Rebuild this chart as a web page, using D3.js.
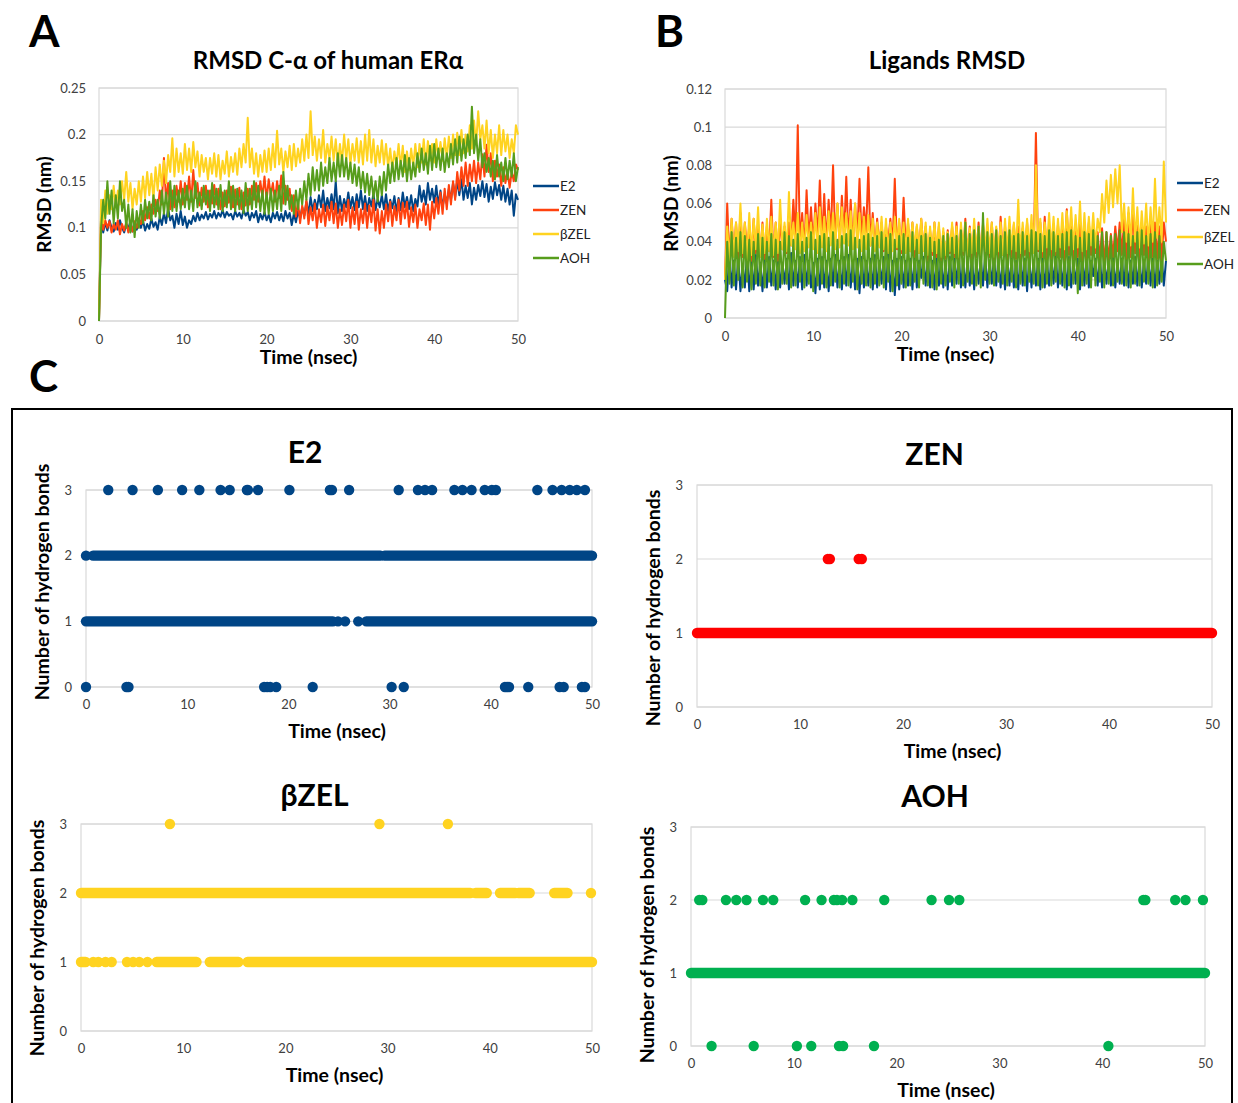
<!DOCTYPE html>
<meta charset="utf-8">
<head>
<style>
body { margin: 0; background: #fff; }
svg text { font-family: Lato, "Open Sans", sans-serif; }
.tick text { fill: #404040; font-size: 13px; }
.bold { font-weight: 700; fill: #000; }
</style>
</head>
<body>
<svg width="1238" height="1103"></svg>
<script src="https://cdn.jsdelivr.net/npm/d3@7"></script>
<script>
// samples are 0.25 ns apart, from 0 to 50 ns
var timeStep = 0.25;
var seriesNames = ["E2", "ZEN", "βZEL", "AOH"];
var lineColors = ["#004586", "#ff420e", "#ffd320", "#579d1c"];
var dotColors = ["#004586", "#ff0000", "#ffd320", "#00b050"];
var timeTicks = [0, 10, 20, 30, 40, 50];
var rmsdTicks = [0, 0.05, 0.1, 0.15, 0.2, 0.25];
var rmsdTickLabels = ["0", "0.05", "0.1", "0.15", "0.2", "0.25"];
var ligTicks = [0, 0.02, 0.04, 0.06, 0.08, 0.1, 0.12];
var ligTickLabels = ["0", "0.02", "0.04", "0.06", "0.08", "0.1", "0.12"];
var hbTicks = [0, 1, 2, 3];

// A: RMSD C-alpha of ER alpha (nm)
var rmsdE2 = [
 0,0.115,0.095,0.106, 0.097,0.108,0.1,0.096, 0.105,0.098,0.108,0.1, 0.095,0.104,0.099,0.107, 0.096,0.103,0.098,0.106,
 0.1,0.108,0.097,0.104, 0.099,0.11,0.101,0.106, 0.098,0.112,0.103,0.116, 0.105,0.121,0.108,0.113, 0.1,0.115,0.104,0.118,
 0.103,0.112,0.1,0.108, 0.104,0.113,0.107,0.116, 0.108,0.114,0.11,0.117, 0.109,0.115,0.111,0.118, 0.11,0.116,0.112,0.119,
 0.111,0.117,0.113,0.115, 0.109,0.118,0.112,0.116, 0.11,0.119,0.113,0.117, 0.108,0.116,0.111,0.118, 0.106,0.115,0.109,0.117,
 0.108,0.114,0.106,0.116, 0.11,0.117,0.108,0.115, 0.107,0.118,0.11,0.116, 0.103,0.115,0.106,0.118, 0.11,0.122,0.113,0.128,
 0.115,0.133,0.118,0.13, 0.12,0.135,0.122,0.14, 0.118,0.132,0.121,0.136, 0.12,0.15,0.116,0.134, 0.118,0.131,0.122,0.138,
 0.121,0.133,0.119,0.136, 0.122,0.14,0.12,0.134, 0.118,0.132,0.123,0.137, 0.119,0.131,0.122,0.135, 0.12,0.136,0.118,0.13,
 0.121,0.134,0.117,0.132, 0.119,0.138,0.122,0.133, 0.12,0.135,0.118,0.131, 0.123,0.145,0.128,0.14, 0.125,0.148,0.13,0.142,
 0.127,0.145,0.124,0.14, 0.122,0.136,0.126,0.142, 0.13,0.148,0.133,0.15, 0.135,0.152,0.13,0.145, 0.132,0.148,0.125,0.143,
 0.13,0.146,0.134,0.15, 0.133,0.147,0.128,0.144, 0.131,0.149,0.135,0.146, 0.13,0.145,0.128,0.142, 0.125,0.14,0.113,0.136,
 0.13];
var rmsdZEN = [
 0,0.112,0.098,0.108, 0.1,0.107,0.095,0.104, 0.098,0.108,0.093,0.104, 0.097,0.106,0.095,0.105, 0.096,0.107,0.1,0.11,
 0.104,0.118,0.108,0.122, 0.11,0.125,0.115,0.13, 0.118,0.14,0.125,0.175, 0.128,0.148,0.12,0.14, 0.122,0.145,0.128,0.15,
 0.125,0.148,0.13,0.155, 0.128,0.162,0.132,0.148, 0.124,0.143,0.128,0.145, 0.122,0.14,0.126,0.146, 0.125,0.142,0.12,0.138,
 0.123,0.14,0.127,0.144, 0.122,0.141,0.125,0.143, 0.12,0.138,0.124,0.142, 0.125,0.145,0.13,0.148, 0.128,0.15,0.133,0.155,
 0.13,0.152,0.135,0.148, 0.128,0.15,0.132,0.156, 0.126,0.145,0.13,0.142, 0.118,0.135,0.112,0.128, 0.105,0.124,0.11,0.13,
 0.104,0.122,0.108,0.126, 0.1,0.12,0.106,0.125, 0.102,0.123,0.108,0.128, 0.105,0.126,0.1,0.12, 0.103,0.125,0.107,0.13,
 0.1,0.122,0.104,0.128, 0.098,0.12,0.105,0.126, 0.1,0.124,0.106,0.13, 0.097,0.12,0.094,0.118, 0.1,0.125,0.107,0.128,
 0.102,0.123,0.108,0.13, 0.104,0.127,0.11,0.128, 0.101,0.122,0.106,0.125, 0.1,0.12,0.108,0.126, 0.103,0.125,0.098,0.128,
 0.11,0.132,0.115,0.138, 0.115,0.142,0.12,0.146, 0.125,0.15,0.13,0.16, 0.14,0.165,0.145,0.17, 0.145,0.168,0.15,0.172,
 0.148,0.17,0.152,0.179, 0.155,0.189,0.16,0.18, 0.15,0.172,0.155,0.168, 0.145,0.165,0.148,0.162, 0.143,0.16,0.15,0.168,
 0.162];
var rmsdBZEL = [
 0,0.13,0.105,0.14, 0.115,0.135,0.12,0.145, 0.122,0.14,0.125,0.15, 0.13,0.16,0.128,0.148, 0.12,0.142,0.125,0.15,
 0.128,0.155,0.132,0.16, 0.135,0.158,0.13,0.165, 0.14,0.168,0.145,0.172, 0.148,0.178,0.16,0.196, 0.155,0.185,0.16,0.18,
 0.158,0.19,0.162,0.185, 0.16,0.192,0.165,0.182, 0.155,0.178,0.16,0.175, 0.152,0.175,0.158,0.18, 0.155,0.178,0.152,0.172,
 0.158,0.182,0.155,0.176, 0.16,0.18,0.157,0.185, 0.165,0.19,0.17,0.218, 0.165,0.185,0.158,0.18, 0.155,0.178,0.16,0.183,
 0.16,0.185,0.162,0.19, 0.165,0.204,0.168,0.185, 0.16,0.182,0.165,0.188, 0.162,0.19,0.166,0.185, 0.17,0.195,0.172,0.2,
 0.175,0.225,0.178,0.198, 0.172,0.195,0.175,0.205, 0.17,0.19,0.174,0.198, 0.172,0.195,0.168,0.19, 0.17,0.2,0.173,0.195,
 0.168,0.19,0.172,0.196, 0.17,0.193,0.168,0.2, 0.172,0.205,0.17,0.195, 0.166,0.188,0.17,0.194, 0.168,0.19,0.165,0.185,
 0.162,0.182,0.168,0.19, 0.165,0.188,0.16,0.182, 0.162,0.185,0.166,0.19, 0.165,0.19,0.17,0.195, 0.168,0.193,0.172,0.19,
 0.17,0.195,0.174,0.192, 0.172,0.196,0.175,0.198, 0.175,0.2,0.178,0.202, 0.178,0.205,0.18,0.2, 0.182,0.21,0.185,0.215,
 0.19,0.225,0.195,0.21, 0.185,0.215,0.18,0.205, 0.175,0.2,0.18,0.21, 0.178,0.205,0.182,0.2, 0.175,0.195,0.18,0.21,
 0.2];
var rmsdAOH = [
 0,0.1,0.13,0.11, 0.15,0.115,0.14,0.105, 0.135,0.11,0.15,0.118, 0.13,0.1,0.125,0.095, 0.12,0.09,0.118,0.1,
 0.125,0.105,0.13,0.11, 0.128,0.108,0.135,0.112, 0.13,0.11,0.14,0.115, 0.138,0.112,0.15,0.118, 0.145,0.118,0.14,0.12,
 0.142,0.122,0.145,0.12, 0.14,0.118,0.15,0.122, 0.138,0.12,0.145,0.125, 0.14,0.118,0.148,0.122, 0.142,0.12,0.146,0.118,
 0.14,0.122,0.15,0.12, 0.145,0.118,0.142,0.12, 0.14,0.116,0.148,0.118, 0.142,0.12,0.15,0.122, 0.145,0.118,0.14,0.115,
 0.138,0.115,0.142,0.118, 0.14,0.12,0.145,0.118, 0.16,0.125,0.145,0.12, 0.135,0.115,0.14,0.12, 0.142,0.125,0.15,0.13,
 0.158,0.135,0.165,0.14, 0.162,0.14,0.17,0.145, 0.165,0.148,0.175,0.15, 0.17,0.15,0.18,0.155, 0.178,0.155,0.175,0.152,
 0.17,0.148,0.168,0.145, 0.165,0.142,0.16,0.138, 0.158,0.135,0.155,0.132, 0.15,0.128,0.155,0.135, 0.16,0.14,0.168,0.148,
 0.17,0.15,0.175,0.152, 0.172,0.155,0.178,0.15, 0.175,0.152,0.17,0.155, 0.18,0.16,0.185,0.162, 0.18,0.158,0.188,0.162,
 0.19,0.165,0.185,0.162, 0.185,0.16,0.18,0.165, 0.19,0.168,0.195,0.17, 0.198,0.172,0.195,0.175, 0.2,0.178,0.23,0.18,
 0.2,0.172,0.195,0.165, 0.18,0.16,0.175,0.155, 0.172,0.152,0.178,0.155, 0.17,0.15,0.175,0.152, 0.172,0.155,0.18,0.15,
 0.165];

// B: ligand RMSD (nm)
var ligE2 = [
 0.02,0.014,0.035,0.016, 0.03,0.015,0.032,0.014, 0.028,0.016,0.034,0.014, 0.03,0.015,0.033,0.017, 0.029,0.014,0.031,0.016,
 0.032,0.017,0.03,0.015, 0.033,0.016,0.029,0.018, 0.031,0.015,0.034,0.017, 0.03,0.016,0.032,0.015, 0.033,0.017,0.03,0.016,
 0.029,0.013,0.031,0.015, 0.032,0.016,0.03,0.014, 0.031,0.017,0.033,0.016, 0.03,0.015,0.032,0.017, 0.033,0.016,0.03,0.015,
 0.031,0.013,0.032,0.016, 0.03,0.017,0.031,0.015, 0.033,0.016,0.03,0.018, 0.032,0.015,0.034,0.014, 0.03,0.012,0.031,0.015,
 0.032,0.016,0.03,0.017, 0.031,0.015,0.033,0.016, 0.03,0.021,0.032,0.017, 0.031,0.016,0.03,0.015, 0.033,0.017,0.031,0.016,
 0.03,0.015,0.032,0.017, 0.031,0.018,0.033,0.016, 0.03,0.016,0.031,0.017, 0.032,0.015,0.03,0.018, 0.031,0.017,0.033,0.016,
 0.03,0.018,0.032,0.017, 0.031,0.016,0.03,0.015, 0.032,0.017,0.031,0.016, 0.03,0.015,0.033,0.017, 0.031,0.014,0.032,0.016,
 0.03,0.017,0.031,0.015, 0.032,0.016,0.03,0.017, 0.031,0.018,0.033,0.016, 0.03,0.017,0.031,0.015, 0.032,0.016,0.03,0.018,
 0.031,0.015,0.032,0.017, 0.033,0.016,0.03,0.022, 0.031,0.017,0.032,0.016, 0.03,0.018,0.031,0.017, 0.032,0.016,0.03,0.018,
 0.031,0.017,0.033,0.016, 0.03,0.018,0.032,0.017, 0.031,0.016,0.03,0.018, 0.032,0.017,0.031,0.016, 0.03,0.018,0.033,0.017,
 0.03];
var ligZEN = [
 0.02,0.06,0.03,0.052, 0.034,0.05,0.03,0.055, 0.032,0.05,0.036,0.048, 0.03,0.052,0.034,0.049, 0.033,0.05,0.031,0.048,
 0.035,0.062,0.032,0.05, 0.03,0.052,0.036,0.048, 0.034,0.05,0.038,0.062, 0.04,0.101,0.038,0.055, 0.036,0.067,0.04,0.058,
 0.038,0.06,0.042,0.072, 0.04,0.065,0.038,0.062, 0.042,0.08,0.04,0.06, 0.038,0.064,0.042,0.074, 0.04,0.062,0.038,0.06,
 0.042,0.073,0.04,0.058, 0.045,0.079,0.038,0.055, 0.036,0.052,0.038,0.05, 0.035,0.048,0.04,0.052, 0.038,0.073,0.036,0.05,
 0.034,0.063,0.036,0.05, 0.035,0.05,0.032,0.048, 0.034,0.052,0.036,0.048, 0.03,0.046,0.033,0.05, 0.032,0.048,0.03,0.045,
 0.031,0.046,0.034,0.048, 0.032,0.05,0.03,0.047, 0.033,0.052,0.031,0.048, 0.03,0.047,0.032,0.05, 0.031,0.049,0.033,0.046,
 0.032,0.05,0.03,0.047, 0.031,0.053,0.033,0.048, 0.03,0.046,0.032,0.049, 0.031,0.048,0.03,0.047, 0.033,0.05,0.031,0.048,
 0.034,0.097,0.035,0.05, 0.032,0.053,0.03,0.048, 0.031,0.047,0.033,0.049, 0.032,0.05,0.03,0.057, 0.033,0.052,0.031,0.048,
 0.032,0.049,0.03,0.047, 0.031,0.05,0.033,0.048, 0.034,0.045,0.03,0.047, 0.028,0.045,0.03,0.044, 0.032,0.048,0.035,0.05,
 0.033,0.052,0.031,0.055, 0.032,0.057,0.034,0.05, 0.031,0.05,0.033,0.048, 0.03,0.049,0.032,0.05, 0.031,0.048,0.03,0.05,
 0.04];
var ligBZEL = [
 0.02,0.048,0.03,0.052, 0.032,0.05,0.035,0.06, 0.034,0.05,0.03,0.055, 0.033,0.052,0.036,0.058, 0.032,0.049,0.034,0.052,
 0.035,0.053,0.033,0.05, 0.034,0.062,0.036,0.05, 0.035,0.066,0.038,0.05, 0.036,0.055,0.034,0.05, 0.035,0.054,0.037,0.05,
 0.036,0.055,0.034,0.058, 0.037,0.053,0.035,0.056, 0.038,0.055,0.036,0.06, 0.037,0.058,0.039,0.055, 0.038,0.056,0.036,0.06,
 0.037,0.055,0.035,0.053, 0.036,0.054,0.038,0.052, 0.035,0.05,0.037,0.053, 0.036,0.052,0.034,0.05, 0.035,0.053,0.037,0.052,
 0.036,0.05,0.034,0.052, 0.035,0.05,0.036,0.049, 0.034,0.052,0.035,0.05, 0.033,0.048,0.035,0.05, 0.034,0.05,0.032,0.047,
 0.033,0.045,0.035,0.05, 0.034,0.048,0.032,0.05, 0.035,0.05,0.033,0.047, 0.034,0.052,0.035,0.048, 0.033,0.05,0.035,0.052,
 0.034,0.05,0.032,0.048, 0.035,0.05,0.033,0.052, 0.034,0.053,0.036,0.05, 0.035,0.062,0.034,0.05, 0.036,0.052,0.035,0.054,
 0.034,0.08,0.036,0.052, 0.035,0.05,0.037,0.055, 0.036,0.053,0.035,0.052, 0.037,0.055,0.036,0.056, 0.038,0.058,0.036,0.054,
 0.037,0.061,0.035,0.055, 0.036,0.053,0.038,0.055, 0.037,0.052,0.045,0.065, 0.05,0.072,0.055,0.075, 0.058,0.078,0.06,0.08,
 0.045,0.06,0.04,0.058, 0.038,0.068,0.04,0.058, 0.037,0.056,0.039,0.06, 0.038,0.058,0.04,0.073, 0.042,0.058,0.04,0.082,
 0.05];
var ligAOH = [
 0,0.04,0.018,0.045, 0.017,0.042,0.02,0.045, 0.016,0.043,0.019,0.041, 0.015,0.04,0.018,0.044, 0.017,0.042,0.016,0.04,
 0.019,0.044,0.017,0.041, 0.015,0.04,0.018,0.045, 0.018,0.043,0.016,0.041, 0.017,0.044,0.019,0.04, 0.016,0.042,0.018,0.045,
 0.014,0.041,0.017,0.043, 0.018,0.044,0.016,0.042, 0.017,0.045,0.019,0.041, 0.016,0.043,0.018,0.044, 0.017,0.046,0.019,0.042,
 0.015,0.041,0.018,0.043, 0.017,0.044,0.016,0.042, 0.018,0.043,0.017,0.045, 0.016,0.042,0.019,0.044, 0.014,0.041,0.017,0.043,
 0.018,0.044,0.016,0.042, 0.017,0.045,0.019,0.041, 0.016,0.043,0.018,0.044, 0.017,0.042,0.016,0.04, 0.015,0.041,0.018,0.043,
 0.017,0.044,0.019,0.042, 0.016,0.043,0.018,0.046, 0.017,0.05,0.019,0.044, 0.018,0.046,0.017,0.048, 0.016,0.055,0.02,0.045,
 0.018,0.044,0.017,0.046, 0.019,0.043,0.018,0.045, 0.017,0.046,0.019,0.043, 0.016,0.044,0.018,0.045, 0.017,0.043,0.019,0.046,
 0.018,0.045,0.017,0.044, 0.016,0.043,0.018,0.046, 0.017,0.045,0.019,0.043, 0.018,0.044,0.016,0.045, 0.017,0.046,0.018,0.043,
 0.013,0.042,0.017,0.045, 0.018,0.044,0.016,0.046, 0.017,0.043,0.019,0.045, 0.016,0.045,0.018,0.043, 0.017,0.044,0.019,0.046,
 0.018,0.045,0.017,0.044, 0.016,0.043,0.018,0.045, 0.017,0.046,0.019,0.043, 0.018,0.044,0.016,0.045, 0.017,0.043,0.019,0.04,
 0.03];

// C: hydrogen bonds. runs are [bonds, from ns, to ns], points are [bonds, ns]
var hbE2Runs = [[2, 0.7, 29.1], [2, 29.5, 50], [1, 0, 24.4], [1, 27.7, 50]];
var hbE2Points = [
 [3,2.2],[3,4.6],[3,7.1],[3,9.5],[3,11.2],[3,13.3],[3,14.2],[3,15.9],[3,16.0],[3,17.0],[3,20.1],[3,24.1],[3,24.3],[3,26.0],
 [3,30.9],[3,32.8],[3,33.5],[3,34.2],[3,36.4],[3,37.2],[3,38.1],[3,39.4],[3,40.1],[3,40.5],[3,44.6],[3,46.1],[3,47.0],
 [3,47.8],[3,48.5],[3,49.3],
 [2,0],[1,24.9],[1,25.6],[1,26.9],
 [0,0],[0,4.0],[0,4.2],[0,17.6],[0,17.9],[0,18.2],[0,18.8],[0,22.4],[0,30.2],[0,31.4],[0,41.4],[0,41.6],[0,41.8],[0,43.7],
 [0,46.8],[0,47.2],[0,49.0],[0,49.3]];
var hbZENRuns = [[1, 0, 50]];
var hbZENPoints = [[2,12.7],[2,12.9],[2,15.7],[2,16.0]];
var hbBZELRuns = [[2, 0, 38.1], [2, 38.6, 39.7], [2, 41.0, 42.5], [2, 42.8, 43.9], [2, 46.3, 47.6],
 [1, 0, 0.45], [1, 7.4, 11.3], [1, 12.6, 15.4], [1, 16.3, 50]];
var hbBZELPoints = [[3,8.7],[3,29.2],[3,35.9],[2,49.9],
 [1,1.2],[1,1.7],[1,2.4],[1,3.0],[1,4.5],[1,5.1],[1,5.7],[1,6.5]];
var hbAOHRuns = [[1, 0, 50]];
var hbAOHPoints = [
 [2,0.8],[2,1.1],[2,3.4],[2,4.4],[2,5.4],[2,7.0],[2,8.0],[2,11.1],[2,12.7],[2,13.9],[2,14.2],[2,14.7],[2,15.7],[2,18.8],
 [2,23.4],[2,25.1],[2,26.1],[2,44.0],[2,44.2],[2,47.1],[2,48.1],[2,49.8],
 [0,2.0],[0,6.1],[0,10.3],[0,11.7],[0,14.4],[0,14.8],[0,17.8],[0,40.6]];

var svg = d3.select("svg");

function boldText(x, y, txt, size, rotate) {
  var t = svg.append("text").attr("class", "bold").attr("text-anchor", "middle")
      .attr("font-size", size).text(txt);
  if (rotate) t.attr("transform", "translate(" + x + "," + y + ") rotate(-90)");
  else t.attr("x", x).attr("y", y);
  return t;
}

function axes(x, y, o) {
  var yAxis = d3.axisLeft(y).tickValues(o.yTicks).tickSize(0).tickPadding(o.yPad)
      .tickFormat(function(d, i) { return o.yLabels[i]; });
  var xAxis = d3.axisBottom(x).tickValues(timeTicks).tickSize(0).tickPadding(o.xPad);
  var gy = svg.append("g").attr("transform", "translate(" + o.left + ",0)").call(yAxis);
  var gx = svg.append("g").attr("transform", "translate(0," + o.bottom + ")").call(xAxis);
  gy.select(".domain").remove();
  gx.select(".domain").remove();
  svg.append("g").selectAll("line").data(o.yTicks).join("line")
      .attr("x1", o.left).attr("x2", o.right)
      .attr("y1", function(d) { return y(d); }).attr("y2", function(d) { return y(d); })
      .attr("stroke", "#d9d9d9").attr("stroke-width", 1.2);
  svg.append("rect").attr("x", o.left).attr("y", o.top)
      .attr("width", o.right - o.left).attr("height", o.bottom - o.top)
      .attr("fill", "none").attr("stroke", "#d9d9d9").attr("stroke-width", 1.2);
}

function rmsdChart(o) {
  var x = d3.scaleLinear().domain([0, 50]).range([o.left, o.right]);
  var y = d3.scaleLinear().domain([0, o.yMax]).range([o.bottom, o.top]);
  axes(x, y, o);
  var line = d3.line()
      .x(function(d, i) { return x(i * timeStep); })
      .y(function(d) { return y(d); });
  o.series.forEach(function(s, k) {
    svg.append("path").datum(s).attr("d", line)
        .attr("fill", "none").attr("stroke", lineColors[k])
        .attr("stroke-width", o.lineWidth).attr("stroke-linejoin", "round");
  });
  // legend
  seriesNames.forEach(function(name, k) {
    var ly = o.legendY[k];
    svg.append("line").attr("x1", o.legendX).attr("x2", o.legendX + 26)
        .attr("y1", ly).attr("y2", ly).attr("stroke", lineColors[k]).attr("stroke-width", 2.5);
    svg.append("text").attr("x", o.legendX + 27).attr("y", ly + 5)
        .attr("font-size", 13.5).attr("fill", "#222").text(name);
  });
  boldText(o.titleX, o.titleY, o.title, 24);
  boldText((o.left + o.right) / 2, o.bottom + 43, "Time (nsec)", 19.5);
  boldText(o.yTitleX, (o.top + o.bottom) / 2, "RMSD (nm)", 19, true);
}

function hbChart(o) {
  var x = d3.scaleLinear().domain([0, 50]).range([o.left, o.right]);
  var y = d3.scaleLinear().domain([0, 3]).range([o.bottom, o.top]);
  o.yTicks = hbTicks;
  o.yLabels = hbTicks.map(String);
  o.yPad = 14; o.xPad = 13;
  axes(x, y, o);
  var r = 5.2;
  svg.append("g").selectAll("line").data(o.runs).join("line")
      .attr("x1", function(d) { return x(d[1]); }).attr("x2", function(d) { return x(d[2]); })
      .attr("y1", function(d) { return y(d[0]); }).attr("y2", function(d) { return y(d[0]); })
      .attr("stroke", o.color).attr("stroke-width", 2 * r).attr("stroke-linecap", "round");
  svg.append("g").selectAll("circle").data(o.points).join("circle")
      .attr("cx", function(d) { return x(d[1]); }).attr("cy", function(d) { return y(d[0]); })
      .attr("r", r).attr("fill", o.color);
  boldText((o.left + o.right) / 2 + o.titleDx, o.titleY, o.title, 30);
  boldText((o.left + o.right) / 2 - 2, o.bottom + 51, "Time (nsec)", 19.5);
  boldText(o.left - 37, o.yTitleY, "Number of hydrogen bonds", 19.5, true);
}

// panel letters
svg.append("text").attr("class", "bold").attr("x", 29).attr("y", 47).attr("font-size", 44).text("A");
svg.append("text").attr("class", "bold").attr("x", 655).attr("y", 47).attr("font-size", 44).text("B");
svg.append("text").attr("class", "bold").attr("x", 29).attr("y", 392).attr("font-size", 44).text("C");

rmsdChart({
  left: 99, right: 518, top: 88, bottom: 321, yMax: 0.25,
  yTicks: rmsdTicks, yLabels: rmsdTickLabels, yPad: 13, xPad: 14,
  series: [rmsdE2, rmsdZEN, rmsdBZEL, rmsdAOH], lineWidth: 2,
  legendX: 533, legendY: [186, 210, 234, 258],
  title: "RMSD C-α of human ERα", titleX: 328, titleY: 69, yTitleX: 51
});

rmsdChart({
  left: 725, right: 1166, top: 89, bottom: 318, yMax: 0.12,
  yTicks: ligTicks, yLabels: ligTickLabels, yPad: 13, xPad: 14,
  series: [ligE2, ligZEN, ligBZEL, ligAOH], lineWidth: 2,
  legendX: 1177, legendY: [183, 210, 237, 264],
  title: "Ligands RMSD", titleX: 947, titleY: 69, yTitleX: 678
});

// frame around C
svg.append("rect").attr("x", 12).attr("y", 409).attr("width", 1220).attr("height", 720)
    .attr("fill", "none").attr("stroke", "#000").attr("stroke-width", 2);

hbChart({ left: 86, right: 592, top: 490, bottom: 687, color: dotColors[0],
  runs: hbE2Runs, points: hbE2Points, title: "E2", titleDx: -34, titleY: 463, yTitleY: 582 });
hbChart({ left: 697, right: 1212, top: 485, bottom: 707, color: dotColors[1],
  runs: hbZENRuns, points: hbZENPoints, title: "ZEN", titleDx: -20, titleY: 465, yTitleY: 608 });
hbChart({ left: 81, right: 592, top: 824, bottom: 1031, color: dotColors[2],
  runs: hbBZELRuns, points: hbBZELPoints, title: "βZEL", titleDx: -22, titleY: 806, yTitleY: 938 });
hbChart({ left: 691, right: 1205, top: 827, bottom: 1046, color: dotColors[3],
  runs: hbAOHRuns, points: hbAOHPoints, title: "AOH", titleDx: -13, titleY: 807, yTitleY: 945 });
</script>
</body>
</html>
